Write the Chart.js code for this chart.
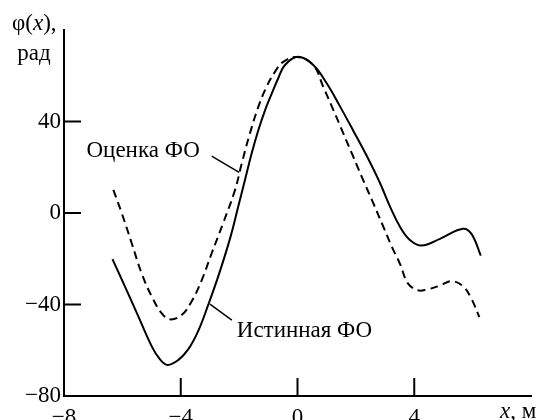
<!DOCTYPE html>
<html>
<head>
<meta charset="utf-8">
<script src="https://cdn.jsdelivr.net/npm/chart.js@4.4.1/dist/chart.umd.min.js"></script>
<style>
  html, body { margin: 0; padding: 0; background: #fff; }
  canvas { display: block; }
</style>
</head>
<body>
<canvas id="chart" width="539" height="420"></canvas>
<script>
// Истинная ФО (solid)
const trueX = [-6.34, -5.91, -5.45, -4.99, -4.71, -4.45, -4.08, -3.74, -3.40, -3.06, -2.71, -2.31, -2.03, -1.80, -1.57, -1.34, -1.11, -0.88, -0.66, -0.43, 0.02, 0.54, 1.0, 1.46, 1.91, 2.37, 2.83, 3.17, 3.51, 3.85, 4.25, 4.88, 5.66, 5.96, 6.28];
const trueY = [-20.2, -32.2, -45.3, -58.4, -64.0, -66.4, -64.2, -59.5, -51.5, -40.2, -27.5, -11.1, 2.8, 14.4, 26.1, 36.3, 45.0, 52.3, 58.9, 64.7, 68.3, 64.7, 56.7, 46.5, 36.0, 25.0, 13.0, 2.8, -6.0, -11.8, -14.2, -11.3, -6.9, -9.1, -18.6];

// Оценка ФО (dashed)
const estX = [-6.31, -6.02, -5.68, -5.34, -4.99, -4.65, -4.37, -3.97, -3.62, -3.28, -2.94, -2.55, -2.14, -1.91, -1.63, -1.34, -1.06, -0.77, -0.49, 0.0, 0.54, 0.88, 1.23, 1.57, 1.91, 2.25, 2.60, 2.94, 3.23, 3.51, 3.79, 4.13, 4.42, 4.88, 5.28, 5.68, 5.96, 6.23];
const estY = [10.1, -0.1, -13.2, -26.4, -36.6, -43.9, -46.5, -44.6, -38.5, -29.3, -17.6, -4.5, 10.1, 21.7, 34.8, 46.5, 55.2, 61.8, 66.1, 68.2, 64.7, 55.2, 45.0, 34.8, 24.6, 14.4, 4.2, -6.0, -14.7, -22.2, -30.9, -33.8, -33.5, -31.7, -29.8, -32.1, -37.5, -45.5];

const xTicksMarked = [-4, 0, 4];
const yTicksMarked = [-40, 0, 40];

// annotation texts and leader lines, in data units
const notes = [
  { text: "Оценка ФО", x: -7.23, y: 24.3, from: [-2.94, 24.9], to: [-2.0, 17.8] },
  { text: "Истинная ФО", x: -2.08, y: -54.3, from: [-3.0, -39.8], to: [-2.25, -46.8] }
];

const FONT = "Liberation Serif, Times New Roman, serif";
const toPts = (xs, ys) => xs.map((x, i) => ({ x: x, y: ys[i] }));
const fmt = v => String(v).replace("-", "\u2212");

const decor = {
  id: "decor",
  afterDraw(chart) {
    const ctx = chart.ctx;
    const xs = chart.scales.x, ys = chart.scales.y;
    ctx.save();
    ctx.strokeStyle = "#000";
    ctx.lineWidth = 2;
    // inward tick marks
    xTicksMarked.forEach(v => {
      const px = xs.getPixelForValue(v);
      ctx.beginPath();
      ctx.moveTo(px, ys.bottom);
      ctx.lineTo(px, ys.bottom - 18);
      ctx.stroke();
    });
    yTicksMarked.forEach(v => {
      const py = ys.getPixelForValue(v);
      ctx.beginPath();
      ctx.moveTo(xs.left, py);
      ctx.lineTo(xs.left + 17, py);
      ctx.stroke();
    });
    // annotations
    ctx.fillStyle = "#000";
    ctx.font = "23px " + FONT;
    ctx.textBaseline = "alphabetic";
    ctx.textAlign = "left";
    ctx.lineWidth = 1.5;
    notes.forEach(n => {
      ctx.fillText(n.text, xs.getPixelForValue(n.x), ys.getPixelForValue(n.y));
      ctx.beginPath();
      ctx.moveTo(xs.getPixelForValue(n.from[0]), ys.getPixelForValue(n.from[1]));
      ctx.lineTo(xs.getPixelForValue(n.to[0]), ys.getPixelForValue(n.to[1]));
      ctx.stroke();
    });
    // axis titles
    const italic = "italic 23px " + FONT, normal = "23px " + FONT;
    const parts = (items, x0, y0) => {
      let x = x0;
      items.forEach(([t, f]) => {
        ctx.font = f;
        ctx.fillText(t, x, y0);
        x += ctx.measureText(t).width;
      });
    };
    parts([["φ(", normal], ["x", italic], ["),", normal]], 12, 30);
    ctx.font = normal;
    ctx.textAlign = "center";
    ctx.fillText("рад", 34, 60);
    ctx.textAlign = "left";
    parts([["x", italic], [", м", normal]], 500, 418);
    ctx.restore();
  }
};

new Chart(document.getElementById("chart"), {
  type: "line",
  data: {
    datasets: [
      {
        label: "Истинная ФО",
        data: toPts(trueX, trueY),
        borderColor: "#000",
        borderWidth: 2,
        pointRadius: 0,
        tension: 0.4,
        fill: false
      },
      {
        label: "Оценка ФО",
        data: toPts(estX, estY),
        borderColor: "#000",
        borderWidth: 2,
        borderDash: [8, 5],
        pointRadius: 0,
        tension: 0.4,
        fill: false
      }
    ]
  },
  options: {
    responsive: false,
    animation: false,
    layout: { padding: { top: 30, right: 8, left: 0, bottom: 0 } },
    plugins: { legend: { display: false }, tooltip: { enabled: false } },
    scales: {
      x: {
        type: "linear",
        min: -8,
        max: 8,
        grid: { display: false, drawTicks: false },
        border: { display: true, color: "#000", width: 2 },
        ticks: {
          stepSize: 4,
          color: "#000",
          font: { family: FONT, size: 23 },
          padding: 8,
          maxRotation: 0,
          callback: v => (v === 8 ? "" : fmt(v))
        },
        afterFit: s => { s.height = 24; }
      },
      y: {
        type: "linear",
        min: -80,
        max: 80,
        grid: { display: false, drawTicks: false },
        border: { display: true, color: "#000", width: 2 },
        ticks: {
          stepSize: 40,
          color: "#000",
          font: { family: FONT, size: 23 },
          padding: 3,
          callback: v => (v === 80 ? "" : fmt(v))
        },
        afterFit: s => { s.width = 64; }
      }
    }
  },
  plugins: [decor]
});
</script>
</body>
</html>
